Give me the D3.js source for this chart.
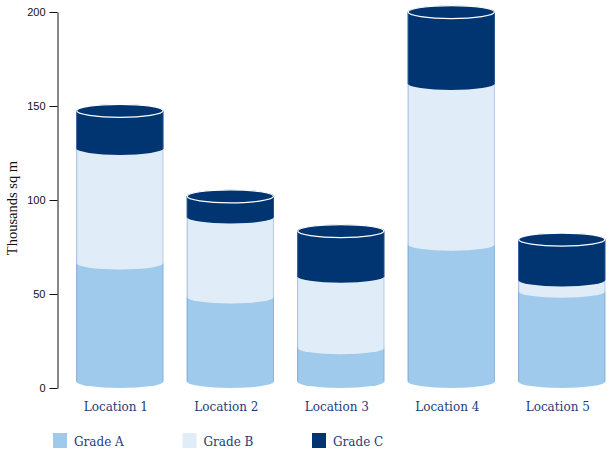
<!DOCTYPE html>
<html>
<head>
<meta charset="utf-8">
<script src="https://cdn.jsdelivr.net/npm/d3@7"></script>
<style>
html,body{margin:0;padding:0;background:#fff;}
svg{display:block;}
</style>
</head>
<body>
<div id="chart"></div>
<script>
const categories = ["Location 1", "Location 2", "Location 3", "Location 4", "Location 5"];
const gradeA = [63, 45, 18, 73, 48];
const gradeB = [61, 42.5, 38, 85.5, 6];
const gradeC = [20, 11, 24, 38, 21.5];
const seriesNames = ["Grade A", "Grade B", "Grade C"];
const seriesColors = ["#a0caec", "#e0edf8", "#003571"];
const yTicks = [0, 50, 100, 150, 200];

const W = 607, H = 453;
const svg = d3.select("#chart").append("svg").attr("width", W).attr("height", H);

const x = d3.scaleBand().domain(categories).range([64.6, 617]).paddingInner(0.21).paddingOuter(0.105);
const y = d3.scaleLinear().domain([0, 200]).range([388, 12]);
const ry = 6.5;

const rows = categories.map((c, i) => ({cat: c, "Grade A": gradeA[i], "Grade B": gradeB[i], "Grade C": gradeC[i]}));
const stack = d3.stack().keys(seriesNames)(rows);

const gBars = svg.append("g");
function segPath(cx, rx, y0, y1) {
  const sTop = y1 - ry, sBot = y0 - ry;
  return `M${cx - rx},${sTop} L${cx - rx},${sBot} A${rx},${ry} 0 0 0 ${cx + rx},${sBot} L${cx + rx},${sTop} A${rx},${ry} 0 0 0 ${cx - rx},${sTop} Z`;
}

categories.forEach((c, i) => {
  const cx = x(c) + x.bandwidth() / 2, rx = x.bandwidth() / 2;
  stack.forEach((layer, k) => {
    const d = layer[i];
    gBars.append("path")
      .attr("d", segPath(cx, rx, y(d[0]), y(d[1])))
      .attr("fill", seriesColors[k]);
  });
  const top = y(stack[stack.length - 1][i][1]) - ry, bot = y(0) - ry;
  gBars.append("line").attr("x1", cx - rx + 0.5).attr("x2", cx - rx + 0.5).attr("y1", top).attr("y2", bot)
    .attr("stroke", "#5b82b6").attr("stroke-opacity", 0.45).attr("stroke-width", 1);
  gBars.append("line").attr("x1", cx + rx - 0.5).attr("x2", cx + rx - 0.5).attr("y1", top).attr("y2", bot)
    .attr("stroke", "#5b82b6").attr("stroke-opacity", 0.3).attr("stroke-width", 1);
  gBars.append("ellipse")
    .attr("cx", cx).attr("cy", top).attr("rx", rx - 0.5).attr("ry", ry)
    .attr("fill", seriesColors[2]).attr("stroke", "#ffffff").attr("stroke-width", 1.2);
});

const gAxis = svg.append("g").attr("transform", "translate(57.5,0)");
gAxis.call(d3.axisLeft(y).tickValues(d3.range(0, 201, 5)).tickSize(4).tickSizeOuter(0).tickFormat(""))
  .call(g => g.select(".domain").remove());
gAxis.call(d3.axisLeft(y).tickValues(yTicks).tickSize(8).tickSizeOuter(0).tickPadding(4));
gAxis.selectAll("line").attr("stroke", "#111");
gAxis.selectAll(".domain").attr("stroke", "#111");
gAxis.selectAll("text").attr("font-family", "'Liberation Sans', Arial, sans-serif").attr("font-size", 11).attr("fill", "#111");

svg.append("text")
  .attr("transform", "translate(17,208) rotate(-90)")
  .attr("text-anchor", "middle")
  .attr("font-family", "'Liberation Serif', 'Times New Roman', serif")
  .attr("font-size", 14.5)
  .attr("fill", "#111")
  .text("Thousands sq m");

svg.append("g").selectAll("text").data(categories).join("text")
  .attr("x", d => x(d) + x.bandwidth() / 2 - 4)
  .attr("y", 411)
  .attr("text-anchor", "middle")
  .attr("font-family", "'DejaVu Serif', serif")
  .attr("font-size", 12)
  .attr("fill", "#1d3d78")
  .text(d => d);

const lg = svg.append("g");
seriesNames.forEach((s, i) => {
  const lx = 53 + i * 129.5;
  lg.append("rect").attr("x", lx).attr("y", 433).attr("width", 14).attr("height", 15).attr("fill", seriesColors[i]);
  lg.append("text").attr("x", lx + 21).attr("y", 446)
    .attr("font-family", "'DejaVu Serif', serif").attr("font-size", 12).attr("fill", "#1d3d78").text(s);
});
</script>
</body>
</html>
